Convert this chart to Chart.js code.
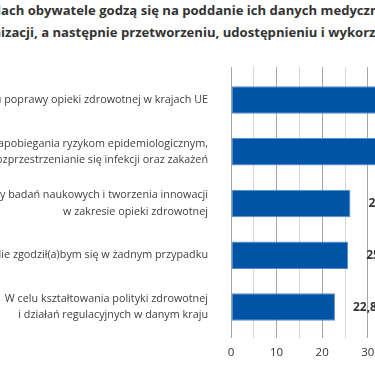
<!DOCTYPE html>
<html lang="pl">
<head>
<meta charset="utf-8">
<script src="https://cdn.jsdelivr.net/npm/chart.js@4.4.1/dist/chart.umd.min.js"></script>
<style>
  html, body { margin: 0; padding: 0; background: #fff; }
  body { width: 375px; height: 366px; overflow: hidden; position: relative; font-family: "Open Sans", sans-serif; }
  .title { position: absolute; left: 1px; white-space: nowrap; font-weight: bold; font-size: 13.1px; line-height: 21px; color: #333; }
  .title .pre { position: absolute; right: 100%; }
  #wrap { position: absolute; left: -100px; top: 0; width: 620px; height: 366px; }
</style>
</head>
<body>
<div class="title" style="top:0px"><span class="pre">W jakich cel</span>ach obywatele godzą się na poddanie ich danych medycznych</div>
<div class="title" style="top:22px"><span class="pre">anonim</span>izacji, a następnie przetworzeniu, udostępnieniu i wykorzystaniu?</div>
<div id="wrap"><canvas id="chart" width="620" height="366"></canvas></div>
<script>
const categories = [
  'W celu poprawy opieki zdrowotnej w krajach UE',
  ['W celu zapobiegania ryzykom epidemiologicznym,', 'np. rozprzestrzenianie się infekcji oraz zakażeń'],
  ['Na potrzeby badań naukowych i tworzenia innowacji', 'w zakresie opieki zdrowotnej'],
  'Nie zgodził(a)bym się w żadnym przypadku',
  ['W celu kształtowania polityki zdrowotnej', 'i działań regulacyjnych w danym kraju']
];
const values = [41.3, 36.2, 26.2, 25.7, 22.8];
const xTicks = [0, 10, 20, 30, 40, 50];

// value labels next to the bars
const valueLabels = {
  id: 'valueLabels',
  afterDatasetsDraw(chart) {
    const ctx = chart.ctx;
    const meta = chart.getDatasetMeta(0);
    ctx.save();
    ctx.font = 'bold 12px "Open Sans"';
    ctx.fillStyle = '#333';
    ctx.textAlign = 'left';
    ctx.textBaseline = 'middle';
    meta.data.forEach((bar, i) => {
      ctx.fillText(values[i].toFixed(1).replace('.', ','), bar.x + 18, bar.y);
    });
    ctx.restore();
  }
};

const gridColor = c => (c.tick && c.tick.value % 10 === 0) ? '#a6a6a6' : '#d6d6d6';

new Chart(document.getElementById('chart'), {
  type: 'bar',
  data: {
    labels: categories,
    datasets: [{
      data: values,
      backgroundColor: '#0054a6',
      borderColor: '#5a8fcf',
      borderWidth: 1,
      borderSkipped: false,
      categoryPercentage: 1,
      barPercentage: 0.53
    }]
  },
  options: {
    indexAxis: 'y',
    responsive: false,
    animation: false,
    layout: { padding: { top: 67, left: 0, right: 61, bottom: 0 } },
    plugins: { legend: { display: false }, tooltip: { enabled: false } },
    scales: {
      x: {
        position: 'bottom',
        min: 0, max: 50,
        afterFit: s => { s.height = 33; },
        border: { display: false },
        grid: { color: gridColor, tickLength: 5, lineWidth: 1 },
        ticks: {
          stepSize: 5,
          padding: 8,
          color: '#333',
          font: { family: 'Open Sans', size: 11.5 },
          callback: v => xTicks.includes(v) ? v : ''
        }
      },
      x2: {
        position: 'top',
        min: 0, max: 50,
        afterFit: s => { s.height = 7; },
        border: { display: false },
        grid: { color: gridColor, drawOnChartArea: false, tickLength: 7 },
        ticks: { stepSize: 5, display: false }
      },
      y: {
        afterFit: s => { s.width = 331; },
        border: { display: false },
        grid: { display: false, drawTicks: false },
        ticks: {
          padding: 23,
          color: '#404040',
          font: { family: 'Open Sans', size: 10.8, lineHeight: 1.5 }
        }
      }
    }
  },
  plugins: [valueLabels]
});
</script>
</body>
</html>
